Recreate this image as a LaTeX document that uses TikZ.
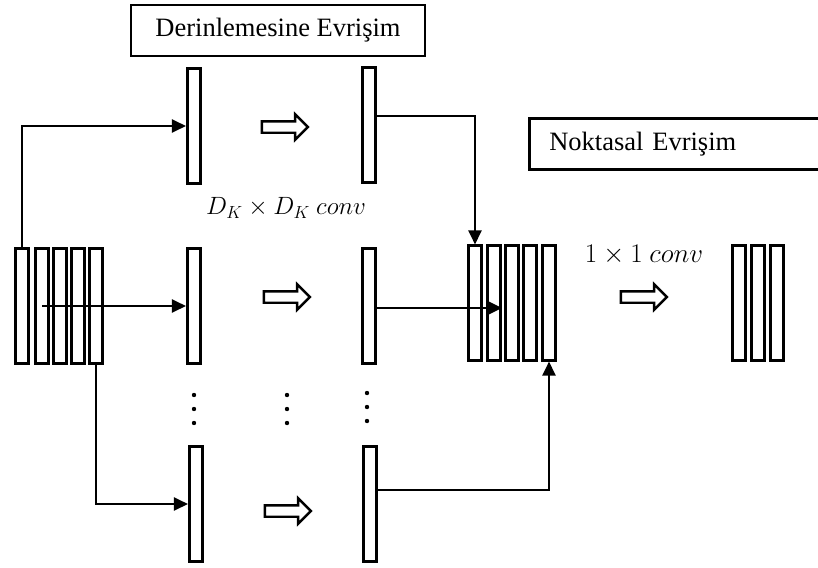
\documentclass[tikz,border=0pt]{standalone}
\usepackage{fix-cm}
\usepackage{amsmath}
\usepackage{fontspec}
\setmainfont{Liberation Serif}
\usepackage{tikz}
\usetikzlibrary{arrows.meta,positioning,shapes.arrows}

\begin{document}
\begin{tikzpicture}[
  x=1pt,y=-1pt,
  bar/.style={draw,line width=2.6pt,minimum width=13.5pt,minimum height=114.5pt,inner sep=0pt},
  title/.style={draw,line width=2.6pt,minimum height=51pt,inner sep=0pt,font=\fontsize{26.5}{30}\selectfont},
  lbl/.style={inner sep=0pt,font=\fontsize{27}{30}\selectfont},
  arrow/.style={-{Triangle[length=14pt,width=13pt]},line width=2.4pt},
  hollow/.style={draw,line width=2.4pt,single arrow,single arrow head extend=7pt,inner xsep=0pt,inner ysep=4.5pt,minimum width=0pt,minimum height=46pt}
]
\clip (0,0) rectangle (818,567);
% input
\node[bar] (in1) at (22,306) {};
\node[bar] (in2) at (42,306) {};
\node[bar] (in3) at (60,306) {};
\node[bar] (in4) at (78,306) {};
\node[bar] (in5) at (96,306) {};
% depthwise
\node[title,minimum width=294pt] (depthwise) at (278,30.5) {Derinlemesine Evrişim};
\node[bar] (t1) at (194,126) {};
\node[bar] (m1) at (194,306) {};
\node[bar] (b1) at (196,504) {};
\node[hollow] (ta) at (282,127) {};
\node[hollow] (ma) at (284,297) {};
\node[hollow] (ba) at (285,511) {};
\node[bar] (t3) at (369,125) {};
\node[bar] (m3) at (369,306) {};
\node[bar] (b3) at (370,504) {};
\node[lbl,font=\fontsize{25}{28}\selectfont] (dkconv) at (286,208) {$D_K \times D_K\ conv$};
\foreach \x/\y in {194/395,287/395,367/393}
  \foreach \d in {0,14,28}
    \fill (\x,\y+\d) circle (2.2pt);
% pointwise
\node[title,anchor=west,text width=260pt,inner xsep=20pt,align=left] (pointwise) at (528,144) {Noktasal Evrişim};
\node[bar] (s1) at (475,303) {};
\node[bar] (s2) at (494,303) {};
\node[bar] (s3) at (512,303) {};
\node[bar] (s4) at (530,303) {};
\node[bar] (s5) at (549,303) {};
\node[lbl] (onebyone) at (644,255) {$1 \times 1\ conv$};
\node[hollow] (pa) at (641,297) {};
\node[bar] (o1) at (739,303) {};
\node[bar] (o2) at (758,303) {};
\node[bar] (o3) at (777,303) {};
\draw[arrow] (in1.north) |- (t1.west);
\draw[arrow] (in2.center) -- (m1.west);
\draw[arrow] (in5.south) |- (b1.west);
\draw[arrow] ([yshift=9pt]t3.east) -| (s1.north);
\draw[arrow] ([yshift=-2pt]m3.east) -- ([yshift=-2pt]m3.east -| s2.east);
\draw[arrow] ([yshift=14pt]b3.east) -| (s5.south);
\end{tikzpicture}
\end{document}
